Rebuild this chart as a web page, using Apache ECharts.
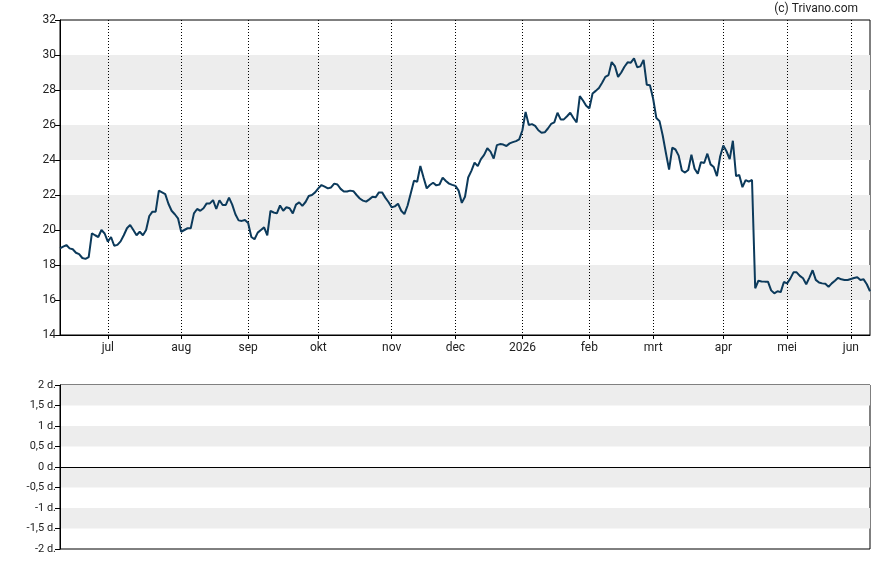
<!DOCTYPE html>
<html>
<head>
<meta charset="utf-8">
<script src="https://cdn.jsdelivr.net/npm/echarts@6/dist/echarts.min.js"></script>
<style>html,body{margin:0;padding:0;background:#fff}#c{width:888px;height:565px}</style>
</head>
<body>
<div id="c"></div>
<script>
// Trading calendar (Euronext): first and last day, market holidays
const firstDay = '2025-06-10';
const lastDay = '2026-06-09';
const holidays = ['2025-12-25','2025-12-26','2026-01-01','2026-04-03','2026-04-06','2026-05-01'];
const monthNames = ['jan','feb','mrt','apr','mei','jun','jul','aug','sep','okt','nov','dec'];

// Closing prices per trading day
const prices = [
18.95,19.05,19.14,18.95,18.9,18.7,18.62,18.4,18.35,18.45,
19.81,19.7,19.6,20.0,19.8,19.33,19.6,19.1,19.15,19.35,
19.7,20.1,20.29,20.0,19.7,19.9,19.7,20.0,20.8,21.05,
21.05,22.25,22.15,22.05,21.5,21.1,20.9,20.67,19.9,20.0,
20.1,20.1,20.95,21.2,21.1,21.24,21.52,21.52,21.71,21.2,
21.7,21.43,21.43,21.85,21.45,20.9,20.55,20.52,20.57,20.4,
19.6,19.47,19.85,20.0,20.15,19.7,21.09,21.0,20.95,21.4,
21.1,21.3,21.24,20.95,21.45,21.58,21.38,21.6,21.94,22.0,
22.15,22.38,22.57,22.48,22.38,22.43,22.65,22.6,22.35,22.2,
22.2,22.25,22.22,22.0,21.8,21.68,21.62,21.75,21.9,21.87,
22.15,22.15,21.85,21.6,21.3,21.35,21.5,21.1,20.91,21.4,
22.1,22.82,22.76,23.66,23.0,22.38,22.57,22.7,22.55,22.6,
22.99,22.8,22.65,22.58,22.52,22.25,21.55,21.9,23.0,23.38,
23.85,23.65,24.05,24.29,24.67,24.48,24.08,24.85,24.91,24.88,
24.8,24.95,25.02,25.08,25.18,25.7,26.75,26.0,26.05,25.95,
25.7,25.56,25.58,25.8,26.06,26.15,26.7,26.32,26.32,26.5,
26.7,26.4,26.15,27.65,27.4,27.1,26.95,27.8,27.95,28.12,
28.42,28.75,28.85,29.6,29.37,28.75,29.0,29.33,29.58,29.56,
29.81,29.3,29.35,29.72,28.3,28.27,27.5,26.4,26.22,25.4,
24.4,23.45,24.7,24.6,24.25,23.4,23.28,23.43,24.3,23.5,
23.22,23.88,23.83,24.36,23.75,23.6,23.08,24.2,24.83,24.5,
24.05,25.1,23.08,23.14,22.45,22.85,22.76,22.86,16.67,17.1,
17.06,17.05,17.05,16.55,16.38,16.5,16.45,17.03,16.95,17.22,
17.58,17.58,17.38,17.24,16.9,17.28,17.7,17.15,17.0,16.95,
16.93,16.75,16.95,17.1,17.27,17.18,17.14,17.14,17.2,17.26,
17.3,17.14,17.18,16.9,16.5
];

// y-axis settings
const priceMin = 14, priceMax = 32, priceStep = 2;
const lowMin = -2, lowMax = 2, lowStep = 0.5;
const copyright = '(c) Trivano.com';

// build the trading day list
const dates = [];
(function(){
  let d = new Date(firstDay + 'T00:00:00Z');
  const end = new Date(lastDay + 'T00:00:00Z');
  while (d <= end) {
    const s = d.toISOString().slice(0,10);
    const wd = d.getUTCDay();
    if (wd !== 0 && wd !== 6 && holidays.indexOf(s) < 0) dates.push(s);
    d = new Date(d.getTime() + 86400000);
  }
})();
const isMonthStart = (i) => i > 0 && dates[i].slice(0,7) !== dates[i-1].slice(0,7);
const monthLabel = (v) => {
  const m = parseInt(v.slice(5,7),10);
  return m === 1 ? v.slice(0,4) : monthNames[m-1];
};

const font = 'Roboto';
const txt = '#222';
const band = ['rgba(255,255,255,0)','#ededed'];

const chart = echarts.init(document.getElementById('c'), null, {renderer:'canvas'});
chart.setOption({
  animation: false,
  backgroundColor: '#fff',
  textStyle: {fontFamily: font},
  grid: [
    {left:60, right:18, top:20, height:315, show:true, borderColor:'#000', borderWidth:1, backgroundColor:'transparent'},
    {left:60, right:18, top:385, height:164, show:true, borderColor:'#000', borderWidth:1, backgroundColor:'transparent'}
  ],
  graphic: [{
    type:'text', right: 30, top: 3,
    style:{text: copyright, fontFamily: font, fontSize: 12, fill: txt}
  }],
  xAxis: [
    {
      type:'category', gridIndex:0, data: dates, boundaryGap:false,
      axisLine:{show:true, lineStyle:{color:'#000', width:1}},
      axisTick:{show:true, interval:(i)=>isMonthStart(i), length:4, lineStyle:{color:'#000'}},
      axisLabel:{show:true, interval:(i)=>isMonthStart(i), formatter:(v)=>monthLabel(v), color:txt, fontFamily:font, fontSize:12, margin:7},
      splitLine:{show:true, interval:(i)=>isMonthStart(i), lineStyle:{color:'#000', width:1, type:[1,2]}}
    },
    {
      type:'category', gridIndex:1, data: dates, boundaryGap:false,
      axisLine:{show:true, onZero:true, lineStyle:{color:'#000', width:1}},
      axisTick:{show:false}, axisLabel:{show:false}, splitLine:{show:false}
    }
  ],
  yAxis: [
    {
      type:'value', gridIndex:0, min:priceMin, max:priceMax, interval:priceStep,
      axisLine:{show:true, lineStyle:{color:'#000'}},
      axisTick:{show:true, length:5, lineStyle:{color:'#000'}},
      axisLabel:{color:txt, fontFamily:font, fontSize:12, margin:4},
      splitLine:{show:false},
      splitArea:{show:true, areaStyle:{color: band}}
    },
    {
      type:'value', gridIndex:1, min:lowMin, max:lowMax, interval:lowStep,
      axisLine:{show:true, lineStyle:{color:'#000'}},
      axisTick:{show:true, length:5, lineStyle:{color:'#000'}},
      axisLabel:{color:txt, fontFamily:font, fontSize:11, margin:4,
        formatter:(v)=>String(v).replace('.', ',') + ' d.'},
      splitLine:{show:false},
      splitArea:{show:true, areaStyle:{color: band}}
    }
  ],
  series: [{
    type:'line', xAxisIndex:0, yAxisIndex:0, data: prices,
    showSymbol:false, symbol:'none', smooth:false,
    lineStyle:{color:'#0c3a5b', width:2}, z:5
  }]
});
</script>
</body>
</html>
